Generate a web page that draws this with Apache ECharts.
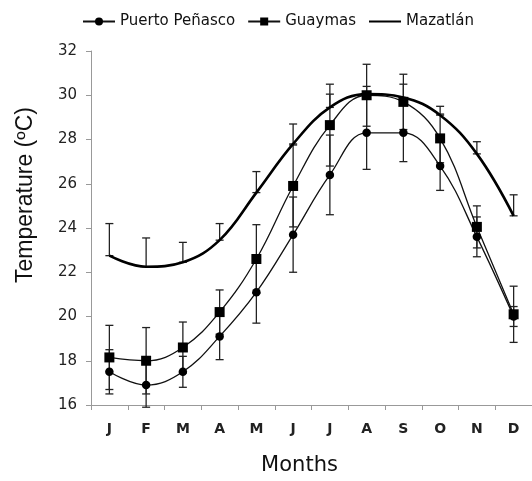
<!DOCTYPE html>
<html>
<head>
<meta charset="utf-8">
<script src="https://cdn.jsdelivr.net/npm/echarts@6/dist/echarts.min.js"></script>
<style>
  html, body { margin: 0; padding: 0; background: #fff; }
  #chart { width: 532px; height: 481px; }
</style>
</head>
<body>
<div id="chart"></div>
<script>
var months = ['J', 'F', 'M', 'A', 'M', 'J', 'J', 'A', 'S', 'O', 'N', 'D'];
var puerto = [17.5, 16.9, 17.5, 19.1, 21.1, 23.7, 26.4, 28.3, 28.3, 26.8, 23.6, 20.0];
var puertoErr = [1.0, 1.0, 0.7, 1.05, 1.4, 1.7, 1.8, 1.65, 1.3, 1.1, 0.9, 0.45];
var guaymas = [18.15, 18.0, 18.6, 20.2, 22.6, 25.9, 28.65, 30.0, 29.7, 28.05, 24.05, 20.1];
var guaymasErr = [1.45, 1.5, 1.15, 1.0, 1.55, 1.85, 1.85, 1.4, 1.25, 1.1, 0.95, 1.27];
var mazatlan = [22.75, 22.25, 22.45, 23.45, 25.6, 27.8, 29.45, 30.05, 29.9, 29.1, 27.35, 24.55];
var mazatlanErr = [1.45, 1.3, 0.9, 0.75, 0.95, 0.9, 0.6, 0.35, 0.6, 0.4, 0.55, 0.95];
var yTicks = [16, 18, 20, 22, 24, 26, 28, 30, 32];

// error bar rows: [index, low, high]
function bars(vals, errs, plusOnly) {
  return vals.map(function (v, i) {
    return [i, plusOnly ? v : v - errs[i], v + errs[i]];
  });
}

function renderBar(params, api) {
  var x = api.value(0);
  var lo = api.coord([x, api.value(1)]);
  var hi = api.coord([x, api.value(2)]);
  var w = 4;
  var st = { stroke: '#222', lineWidth: 1.3 };
  return {
    type: 'group',
    children: [
      { type: 'line', shape: { x1: lo[0], y1: lo[1], x2: hi[0], y2: hi[1] }, style: st },
      { type: 'line', shape: { x1: hi[0] - w, y1: hi[1], x2: hi[0] + w, y2: hi[1] }, style: st },
      { type: 'line', shape: { x1: lo[0] - w, y1: lo[1], x2: lo[0] + w, y2: lo[1] }, style: st }
    ]
  };
}

var chart = echarts.init(document.getElementById('chart'));
chart.setOption({
  animation: false,
  textStyle: { fontFamily: 'Liberation Sans, Arial, sans-serif' },
  legend: {
    top: 9,
    left: 77,
    itemWidth: 32,
    itemHeight: 10,
    itemGap: 12,
    textStyle: { fontSize: 15, color: '#111', fontFamily: 'DejaVu Sans, sans-serif' },
    data: [
      'Puerto Peñasco',
      'Guaymas',
      { name: 'Mazatlán', itemStyle: { color: 'rgba(0,0,0,0)', borderWidth: 0 } }
    ]
  },
  grid: { left: 91, right: -5, top: 51, bottom: 73 },
  xAxis: {
    type: 'category',
    data: months,
    boundaryGap: true,
    name: 'Months',
    nameLocation: 'middle',
    nameGap: 50,
    nameTextStyle: {
      fontFamily: 'DejaVu Sans, Verdana, sans-serif', fontSize: 21, color: '#111',
      padding: [0, 24, 0, 0]
    },
    axisLine: { lineStyle: { color: '#999', width: 1 } },
    axisTick: { show: true, length: 5, lineStyle: { color: '#999' } },
    axisLabel: {
      fontSize: 14, fontWeight: 'bold', color: '#222', margin: 17,
      fontFamily: 'DejaVu Sans, sans-serif'
    }
  },
  yAxis: {
    type: 'value',
    min: 16,
    max: 32,
    interval: 2,
    name: 'Temperature (ºC)',
    nameLocation: 'middle',
    nameGap: 54,
    nameTextStyle: { fontSize: 23, color: '#111', padding: [0, 0, 0, 66] },
    axisLine: { show: true, lineStyle: { color: '#999', width: 1 } },
    axisTick: { show: true, length: 5, lineStyle: { color: '#999' } },
    splitLine: { show: false },
    axisLabel: {
      fontSize: 15, color: '#222', margin: 14, fontFamily: 'DejaVu Sans, sans-serif',
      formatter: function (v) { return yTicks.indexOf(v) >= 0 ? String(v) : ''; }
    }
  },
  series: [
    {
      name: 'Puerto Peñasco', type: 'line', data: puerto, smooth: 0.4, z: 3,
      symbol: 'circle', symbolSize: 8.5,
      lineStyle: { color: '#111', width: 1.3 },
      itemStyle: { color: '#000' }
    },
    {
      name: 'Guaymas', type: 'line', data: guaymas, smooth: 0.4, z: 3,
      symbol: 'rect', symbolSize: 10,
      lineStyle: { color: '#111', width: 1.3 },
      itemStyle: { color: '#000' }
    },
    {
      name: 'Mazatlán', type: 'line', data: mazatlan, smooth: 0.4, z: 3,
      symbol: 'none',
      lineStyle: { color: '#000', width: 2.6 },
      itemStyle: { color: '#000' }
    },
    { type: 'custom', renderItem: renderBar, data: bars(puerto, puertoErr, false), z: 2, silent: true },
    { type: 'custom', renderItem: renderBar, data: bars(guaymas, guaymasErr, false), z: 2, silent: true },
    { type: 'custom', renderItem: renderBar, data: bars(mazatlan, mazatlanErr, true), z: 2, silent: true }
  ]
});
</script>
</body>
</html>
